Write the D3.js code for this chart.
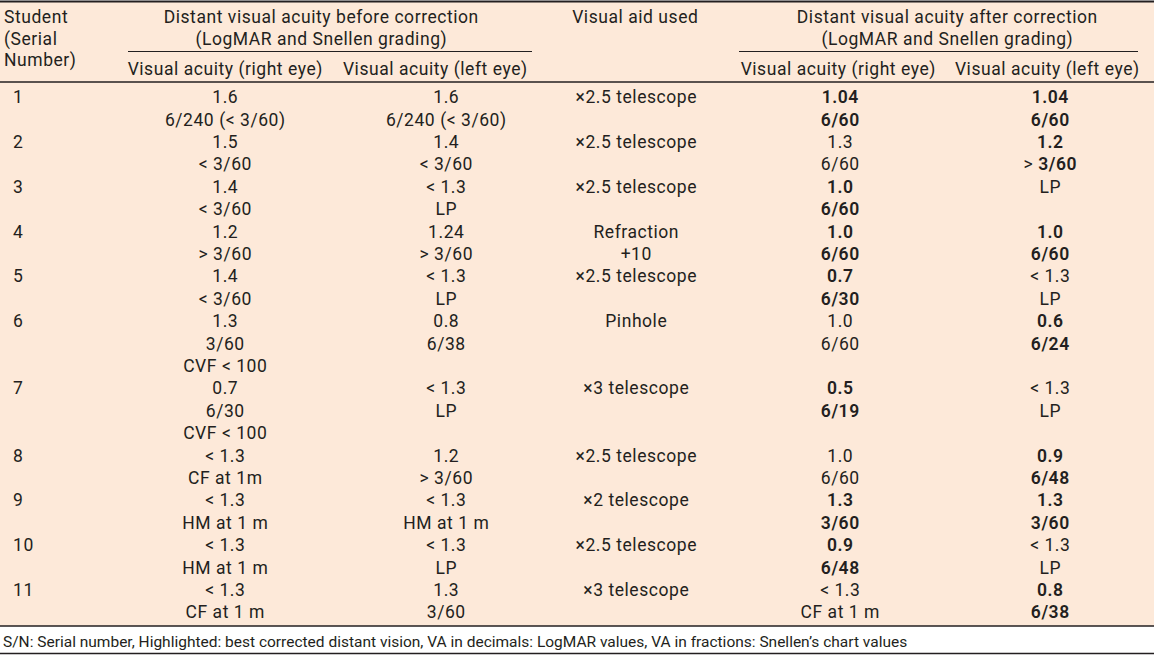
<!DOCTYPE html>
<html><head><meta charset="utf-8">
<script src="https://cdn.jsdelivr.net/npm/d3@7"></script>
<style>html,body{margin:0;padding:0;background:#fff;}svg{display:block;}</style>
</head><body><svg id="chart" width="1154" height="655"></svg>
<script>
// ---- data ----
const students = ["1","2","3","4","5","6","7","8","9","10","11"];
const beforeRight = [["1.6","6/240 (< 3/60)"],["1.5","< 3/60"],["1.4","< 3/60"],["1.2","> 3/60"],["1.4","< 3/60"],["1.3","3/60","CVF < 100"],["0.7","6/30","CVF < 100"],["< 1.3","CF at 1m"],["< 1.3","HM at 1 m"],["< 1.3","HM at 1 m"],["< 1.3","CF at 1 m"]];
const beforeLeft = [["1.6","6/240 (< 3/60)"],["1.4","< 3/60"],["< 1.3","LP"],["1.24","> 3/60"],["<  1.3","LP"],["0.8","6/38"],["< 1.3","LP"],["1.2","> 3/60"],["< 1.3","HM at 1 m"],["< 1.3","LP"],["1.3","3/60"]];
const visualAids = [["×2.5 telescope"],["×2.5 telescope"],["×2.5 telescope"],["Refraction","+10"],["×2.5 telescope"],["Pinhole"],["×3 telescope"],["×2.5 telescope"],["×2 telescope"],["×2.5 telescope"],["×3 telescope"]];
// "**" marks bold text
const afterRight = [["**1.04","**6/60"],["1.3","6/60"],["**1.0","**6/60"],["**1.0","**6/60"],["**0.7","**6/30"],["1.0","6/60"],["**0.5","**6/19"],["1.0","6/60"],["**1.3","**3/60"],["**0.9","**6/48"],["< 1.3","CF at 1 m"]];
const afterLeft = [["**1.04","**6/60"],["**1.2","> **3/60"],["LP"],["**1.0","**6/60"],["< 1.3","LP"],["**0.6","**6/24"],["< 1.3","LP"],["**0.9","**6/48"],["**1.3","**3/60"],["< 1.3","LP"],["**0.8","**6/38"]];
const headerStudent = ["Student","(Serial","Number)"];
const groupBefore = ["Distant visual acuity before correction","(LogMAR and Snellen grading)"];
const groupAfter = ["Distant visual acuity after correction","(LogMAR and Snellen grading)"];
const aidHeader = "Visual aid used";
const subHeaders = ["Visual acuity (right eye)","Visual acuity (left eye)","Visual acuity (right eye)","Visual acuity (left eye)"];
const footnote = "S/N: Serial number, Highlighted: best corrected distant vision, VA in decimals: LogMAR values, VA in fractions: Snellen\u2019s chart values";

// ---- layout ----
const W = 1154, H = 655;
const FONT = "Roboto, sans-serif";
const FS = 17.5;
const LS = 0.55;
const INK = "#231f20";
const PEACH = "#fde9d9";
const svg = d3.select("#chart");

svg.append("rect").attr("x",0).attr("y",2).attr("width",W).attr("height",624).attr("fill",PEACH);

const cols = ["student","bR","bL","aid","aR","aL"];
const colX = d3.scaleOrdinal().domain(cols).range([13,225,446,636,840,1050]);
const subX = d3.scaleOrdinal().domain([0,1,2,3]).range([225,435,838,1047]);

const tableCols = [null, beforeRight, beforeLeft, visualAids, afterRight, afterLeft];
const nLines = students.map((s,i)=>d3.max(tableCols.slice(1), c=>c[i].length));
const startLine = [];
nLines.reduce((acc,n,i)=>{startLine[i]=acc;return acc+n;},0);
const totalLines = d3.sum(nLines);
const lineY = d3.scaleLinear().domain([0,totalLines-1]).range([97,612]);

function addText(g, x, y, str, anchor, size, ls){
  const sp = (ls===undefined) ? LS : ls;
  // compensate trailing letter-spacing for centred text
  const xx = anchor==="middle" ? x + sp/2 : x;
  const t = g.append("text").attr("x",xx).attr("y",y).attr("dy","0.36em")
    .attr("text-anchor",anchor||"middle").attr("font-family",FONT)
    .attr("font-size",size||FS).attr("letter-spacing",sp).attr("fill",INK);
  const parts = str.split("**");
  parts.forEach((p,k)=>{
    if(!p) return;
    t.append("tspan").text(p).attr("font-weight", k>0 ? 600 : "normal");
  });
  return t;
}

// header
const hdr = svg.append("g");
const hY = d3.scaleLinear().domain([0,1]).range([17,38.3]);
headerStudent.forEach((s,k)=>addText(hdr,4,hY(k),s,"start"));
groupBefore.forEach((s,k)=>addText(hdr,321,hY(k),s,"middle"));
groupAfter.forEach((s,k)=>addText(hdr,947,hY(k),s,"middle"));
addText(hdr,635,hY(0),aidHeader,"middle");
subHeaders.forEach((s,k)=>addText(hdr,subX(k),68.5,s,"middle"));

// rules
const rule = (x1,x2,y,w)=>svg.append("line").attr("x1",x1).attr("x2",x2).attr("y1",y).attr("y2",y)
  .attr("stroke",INK).attr("stroke-width",w||1.3);
rule(0,W,1.5,1.8);
rule(128,532,51.5,1.2);
rule(739,1138,51.5,1.2);
rule(0,W,82,1.3);
rule(0,W,626,1.3);
rule(0,W,653.5,1.5);

// body
const body = svg.append("g");
students.forEach((s,i)=>{
  addText(body,colX("student"),lineY(startLine[i]),s,"start");
  tableCols.forEach((col,c)=>{
    if(!col) return;
    col[i].forEach((line,k)=>{
      addText(body,colX(cols[c]),lineY(startLine[i]+k),line,"middle");
    });
  });
});

// footnote
addText(svg,3,641,footnote,"start",15.5,0);
</script></body></html>
